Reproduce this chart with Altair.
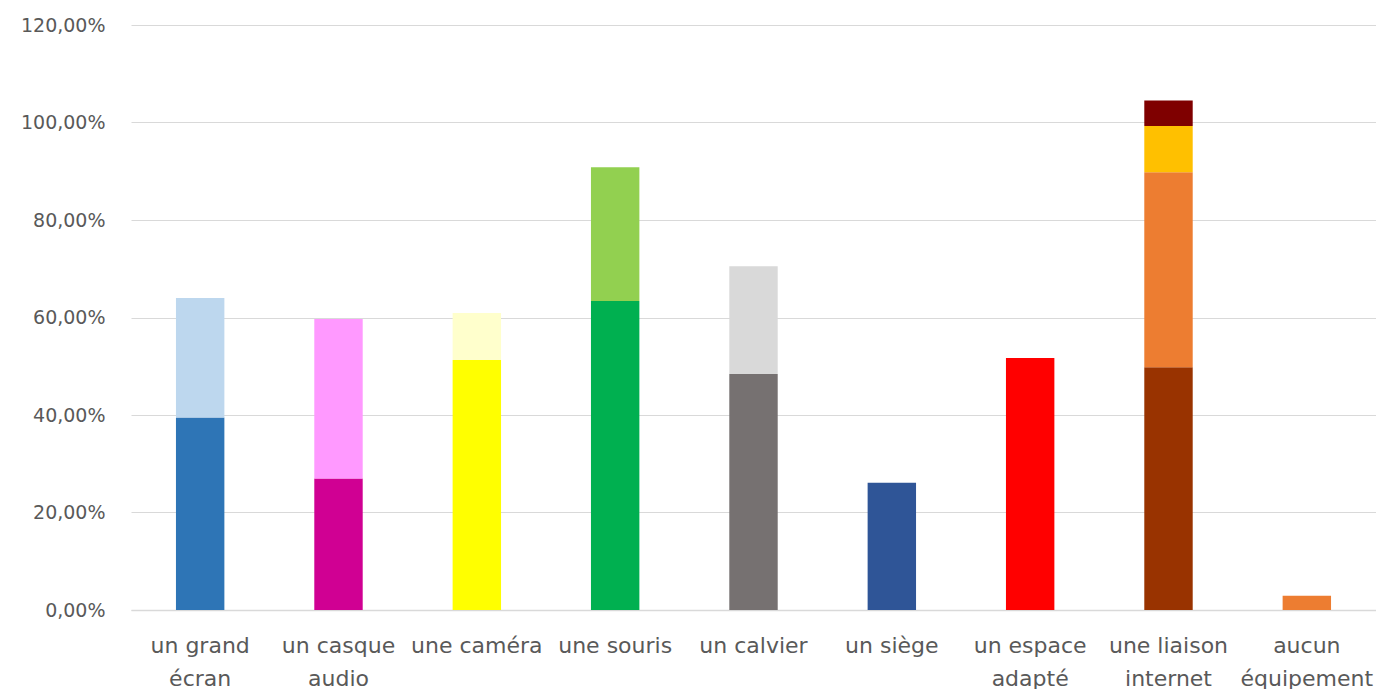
import altair as alt
import pandas as pd

categories = ["un grand\nécran", "un casque\naudio", "une caméra", "une souris",
              "un calvier", "un siège", "un espace\nadapté", "une liaison\ninternet",
              "aucun\néquipement"]

# stacked segment values (%), bottom to top
seg1 = [39.5, 27.0, 51.3, 63.4, 48.4, 26.1, 51.7, 49.8, 2.9]
seg2 = [24.5, 32.7, 9.6, 27.4, 22.1, 0.0, 0.0, 40.0, 0.0]
seg3 = [0.0, 0.0, 0.0, 0.0, 0.0, 0.0, 0.0, 9.5, 0.0]
seg4 = [0.0, 0.0, 0.0, 0.0, 0.0, 0.0, 0.0, 5.2, 0.0]

col1 = ["#2E75B6", "#D00093", "#FFFF00", "#00B050", "#767171", "#2F5597", "#FF0000", "#993300", "#ED7D31"]
col2 = ["#BDD7EE", "#FF99FF", "#FFFFCC", "#92D050", "#D9D9D9", "#FFFFFF", "#FFFFFF", "#ED7D31", "#FFFFFF"]
col3 = ["#FFFFFF"] * 7 + ["#FFC000", "#FFFFFF"]
col4 = ["#FFFFFF"] * 7 + ["#7F0000", "#FFFFFF"]

rows = []
for level, (vals, cols) in enumerate([(seg1, col1), (seg2, col2), (seg3, col3), (seg4, col4)]):
    for cat, v, c in zip(categories, vals, cols):
        if v > 0:
            rows.append({"cat": cat, "value": v / 100.0, "color": c, "level": level})
df = pd.DataFrame(rows)

font = "DejaVu Sans"

chart = alt.Chart(df).mark_bar().encode(
    x=alt.X("cat:N", sort=categories, title=None,
            scale=alt.Scale(paddingInner=0.65, paddingOuter=0.325),
            axis=alt.Axis(labelAngle=0, ticks=False, domainColor="#D9D9D9", domainWidth=1.5,
                          labelExpr="split(datum.value, '\\n')", labelFontSize=22,
                          labelLineHeight=33, labelPadding=25, labelColor="#595959",
                          labelFont=font, labelBaseline="top")),
    y=alt.Y("value:Q", stack="zero", title=None,
            scale=alt.Scale(domain=[0, 1.2], nice=False),
            axis=alt.Axis(values=[0, 0.2, 0.4, 0.6, 0.8, 1.0, 1.2], ticks=False, domain=False,
                          labelExpr="replace(format(datum.value, '.2%'), '.', ',')",
                          labelFontSize=19, labelColor="#595959", labelFont=font,
                          labelPadding=26, gridColor="#D9D9D9", gridWidth=1.2)),
    color=alt.Color("color:N", scale=None),
    order=alt.Order("level:Q"),
).properties(
    width=1245, height=585,
    padding={"left": 12, "top": 8, "right": 0, "bottom": 0},
).configure(background="white").configure_view(stroke=None)

chart.save("out.html", embed_options={"renderer": "svg", "actions": False})
